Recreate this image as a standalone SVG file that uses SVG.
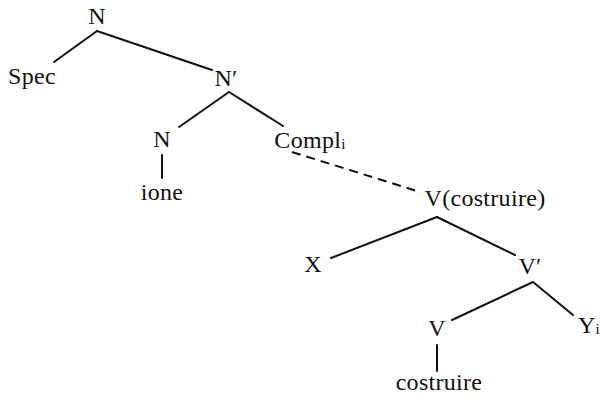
<svg xmlns="http://www.w3.org/2000/svg" width="602" height="397" viewBox="0 0 602 397">
<style>
text{font-family:"Liberation Serif","DejaVu Serif",serif;font-size:24px;fill:#111;text-anchor:middle;letter-spacing:0.3px}
.sub{font-size:15px}
line{stroke:#111;stroke-width:2;stroke-linecap:round}
.dash{stroke-dasharray:9 6;stroke-linecap:butt}
</style>
<rect width="602" height="397" fill="#fff"/>
<g id="connectors">
<line x1="97" y1="31" x2="54" y2="62"/>
<line x1="97" y1="31" x2="212" y2="70"/>
<line x1="229" y1="92" x2="179" y2="127"/>
<line x1="229" y1="92" x2="283" y2="126"/>
<line x1="162" y1="155" x2="162" y2="178"/>
<line class="dash" x1="292" y1="152" x2="417" y2="191"/>
<line x1="437" y1="217" x2="331" y2="258"/>
<line x1="437" y1="217" x2="515" y2="255"/>
<line x1="533" y1="282" x2="452" y2="320"/>
<line x1="533" y1="282" x2="573" y2="315"/>
<line x1="437" y1="345" x2="437" y2="371"/>
</g>
<g id="n-top"><text x="97" y="24">N</text></g>
<g id="spec"><text x="32" y="84">Spec</text></g>
<g id="nbar"><text x="226" y="86">N′</text></g>
<g id="n-head"><text x="162" y="147">N</text></g>
<g id="ione"><text x="162" y="200">ione</text></g>
<g id="compl"><text x="310" y="148">Compl<tspan class="sub" dy="1">i</tspan></text></g>
<g id="v-costruire"><text x="485" y="206">V(costruire)</text></g>
<g id="x"><text x="313" y="272">X</text></g>
<g id="vbar"><text x="530" y="274">V′</text></g>
<g id="v"><text x="437" y="336">V</text></g>
<g id="yi"><text x="589" y="333">Y<tspan class="sub" dy="1">i</tspan></text></g>
<g id="costruire"><text x="439" y="390">costruire</text></g>
</svg>
